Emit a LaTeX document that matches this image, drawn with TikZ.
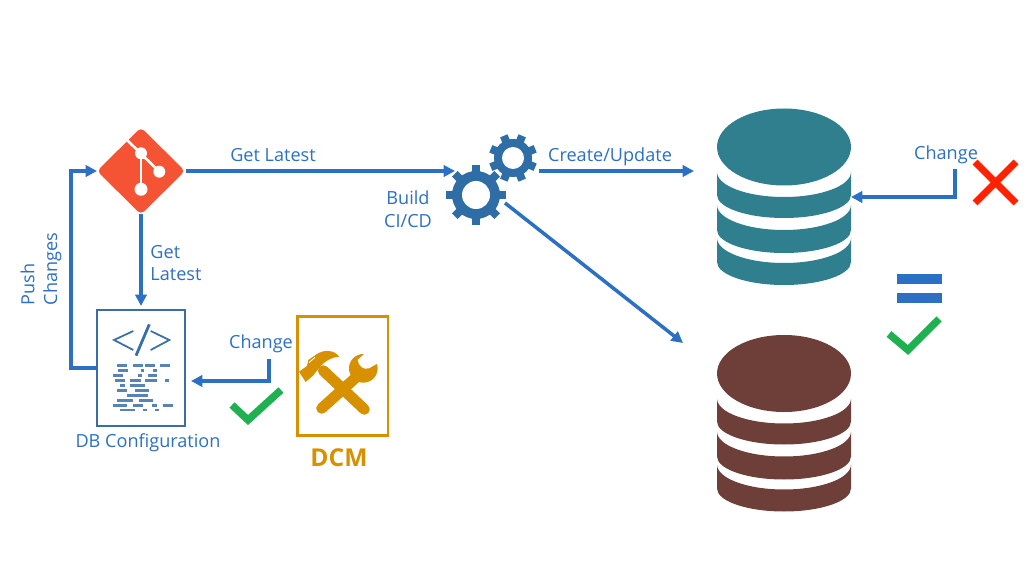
\documentclass[tikz,border=0pt]{standalone}
\usepackage{fontspec}
\setmainfont{Open Sans}
\usepackage{xcolor}
\usetikzlibrary{arrows.meta,shapes.geometric}
\definecolor{linkblue}{HTML}{2B70C2}
\definecolor{docblue}{HTML}{3A6EA8}
\definecolor{gearblue}{HTML}{2F6DA6}
\definecolor{gitred}{HTML}{F45334}
\definecolor{dcmgold}{HTML}{D69000}
\definecolor{dbteal}{HTML}{2F7F8F}
\definecolor{dbbrown}{HTML}{6D3F38}
\definecolor{okgreen}{HTML}{1FB050}
\definecolor{nored}{HTML}{FF2200}
\tikzset{
  conn/.style    = {-{Triangle[length=6.5pt,width=6.5pt]}, linkblue, line width=2pt},
  etiqueta/.style = {font=\fontsize{10.3}{13}\selectfont, text=linkblue, align=center, inner sep=0pt},
  okmark/.style  = {okgreen, line width=4.2pt},
  hueco/.style   = {inner sep=0pt, outer sep=0pt}
}
\newcommand{\dbstack}[2]{
  \fill[#2] (784,147+#1) ellipse[x radius=67, y radius=38.5];
  \foreach \ya/\yb in {172/195,205/230,238/262}{
    \fill[#2] (717,\ya+#1) arc[start angle=180, end angle=0, x radius=67, y radius=25]
      -- (851,\yb+#1) arc[start angle=0, end angle=180, x radius=67, y radius=23] -- cycle;
  }
}
\newcommand{\gearicon}[6]{
  \begin{scope}[shift={(#1,#2)}]
    \fill[gearblue] (0,0) circle[radius=#3];
    \foreach \ang in {0,45,...,315}{
      \fill[gearblue, rotate=\ang+#6] (#3-2,-4) rectangle (#5,4);
    }
    \fill[white] (0,0) circle[radius=#4];
  \end{scope}
}
\begin{document}
\begin{tikzpicture}[x=0.02cm, y=-0.02cm]
  \useasboundingbox (0,0) rectangle (1024,567);

  \node[diamond, fill=gitred, rounded corners=2.5pt, minimum width=1.76cm, minimum height=1.74cm, hueco] (git) at (141,171) {};
  \draw[white, line width=1.5pt] (127,140) -- (159.3,171.7);
  \draw[white, line width=1.5pt] (141,153.3) -- (141,189.3);
  \fill[white] (141,153.3) circle[radius=6];
  \fill[white] (159.3,171.7) circle[radius=6];
  \fill[white] (141,189.3) circle[radius=6.5];

  \node[draw=docblue, line width=1.5pt, minimum width=1.76cm, minimum height=2.32cm, hueco] (doc) at (141,368) {};
  \begin{scope}[shift={(100,315)}, scale=0.3333]
    \draw[docblue, line width=1pt] (100,48) -- (42,75) -- (100,105);
    \draw[docblue, line width=1pt] (152,48) -- (208,75) -- (152,105);
    \draw[docblue, line width=1.6pt] (148,28) -- (108,122);
    \foreach \y/\a/\b in {152/52/82,152/100/128,152/135/165,152/180/210,
      167/55/85,167/122/133,167/158/170,
      182/38/68,182/113/125,182/145/172,
      197/45/75,197/90/122,197/135/170,197/195/208,
      212/60/75,212/90/135,
      227/52/82,227/105/148,
      241/80/143,
      256/52/98,256/118/158,
      271/38/82,271/100/128,271/155/172,271/188/218,
      285/60/105,285/128/140,285/165/178}{
      \draw[docblue!85, line width=1.5pt] (\a,\y) -- (\b,\y);
    }
  \end{scope}
  \node[etiqueta] (doclabel) at (148,443) {DB Configuration};

  \node[draw=dcmgold, line width=1.7pt, minimum width=1.82cm, minimum height=2.4cm, hueco] (dcm) at (342.5,376) {};
  \begin{scope}[shift={(295,340)}, scale=0.3333]
    \draw[dcmgold, line width=6.2pt, line cap=round] (85,92) -- (208,208);
    \draw[dcmgold, line width=6.2pt, line cap=round] (80,205) -- (180,115);
    \fill[dcmgold] (12,95) -- (32,126) -- (55,106) -- (72,84)
      .. controls (90,62) and (110,52) .. (132,50)
      .. controls (120,32) and (92,26) .. (66,42)
      -- (40,60) -- (36,78) -- cycle;
    \draw[white, line width=0.5pt] (42,68) -- (60,52);
    \fill[dcmgold] (205,85) circle[radius=43];
    \fill[white] (218,32) -- (188,60) .. controls (192,80) and (205,90) .. (222,85) -- (262,62) -- (250,25) -- cycle;
  \end{scope}
  \node[etiqueta, text=dcmgold, font=\fontsize{14}{16}\selectfont\bfseries] (dcmlabel) at (339,458) {DCM};

  \gearicon{476}{195}{24}{14}{30}{0}
  \gearicon{513}{158}{19}{11}{24}{22.5}
  \node[circle, minimum size=1.2cm, hueco] (gearbig) at (476,195) {};
  \node[circle, minimum size=0.96cm, hueco] (gearsmall) at (513,158) {};
  \node[etiqueta] (buildlabel) at (408,209) {Build\\CI/CD};

  \dbstack{0}{dbteal}
  \dbstack{226.5}{dbbrown}
  \node[minimum width=2.68cm, minimum height=3.54cm, hueco] (dbtop) at (784,197) {};
  \node[minimum width=2.68cm, minimum height=3.54cm, hueco] (dbbottom) at (784,423) {};

  \coordinate (gitout) at (186,171);
  \coordinate (buildin) at (455,171);
  \coordinate (createout) at (539,171);
  \coordinate (createin) at (694,171);
  \coordinate (diagout) at (505,203);
  \coordinate (diagin) at (683,343);
  \coordinate (docin) at (191,381);
  \coordinate (dcmout) at (269,359);
  \coordinate (dbout) at (955,169);

  \draw[conn] (gitout) -- (buildin);
  \draw[conn, shorten >=2.3pt] (git.south) -- (doc.north);
  \draw[conn] (doc.west) -- ++(-26,0) |- (git.west);
  \draw[conn] (createout) -- (createin);
  \draw[conn] (diagout) -- (diagin);
  \draw[conn] (dcmout) |- (docin);
  \draw[conn] (dbout) |- (dbtop.east);

  \node[etiqueta] (latesta) at (273,155) {Get Latest};
  \node[etiqueta, align=left] (latestb) at (176,263) {Get\\Latest};
  \node[etiqueta, align=left, rotate=90] (pushlabel) at (41,269) {Push\\Changes};
  \node[etiqueta] (createlabel) at (610,157) {Create/Update};
  \node[etiqueta] (changedcm) at (261,344) {Change};
  \node[etiqueta] (changedb) at (946,155) {Change};

  \draw[okmark] (232,405) -- (248,420) -- (281,390);
  \draw[okmark] (889,334) -- (908,350) -- (939,319);
  \draw[nored, line width=4pt] (975,162) -- (1016,203);
  \draw[nored, line width=4pt] (1016,162) -- (975,203);
  \fill[linkblue] (897,274) rectangle (942,284);
  \fill[linkblue] (897,293) rectangle (942,303);
\end{tikzpicture}
\end{document}
